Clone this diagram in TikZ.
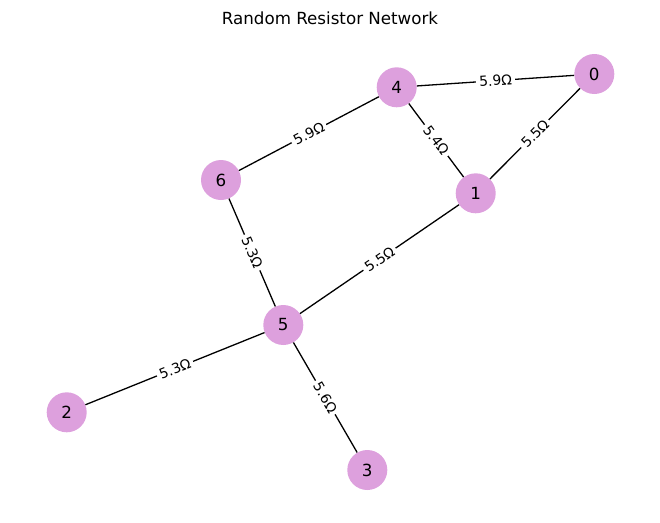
\documentclass[tikz,border=0pt]{standalone}
\usepackage{fontspec}
\setmainfont{DejaVu Sans}
\begin{document}
\begin{tikzpicture}[x=1pt,y=-1pt,
  vert/.style={circle,fill=plum,minimum size=40pt,inner sep=0pt,font=\fontsize{16.7}{18}\selectfont},
  edge/.style={draw=black,line width=1.3pt},
  elab/.style={midway,sloped,fill=white,inner xsep=3pt,inner ysep=1.5pt,rounded corners=2pt,font=\fontsize{13.9}{15}\selectfont}]
\definecolor{plum}{HTML}{DDA0DD}
\useasboundingbox (0,0) rectangle (660,522);
\node[font=\fontsize{16.7}{18}\selectfont] (title) at (330,18) {Random Resistor Network};
\node[vert] (n0) at (594.3,74) {0};
\node[vert] (n1) at (475.7,193.3) {1};
\node[vert] (n2) at (66.7,412.3) {2};
\node[vert] (n3) at (367.3,470) {3};
\node[vert] (n4) at (396.7,87.3) {4};
\node[vert] (n5) at (283.3,325) {5};
\node[vert] (n6) at (221,180) {6};
\draw[edge] (n4) -- node[elab] {5.9Ω} (n0);
\draw[edge] (n0) -- node[elab] {5.5Ω} (n1);
\draw[edge] (n4) -- node[elab] {5.4Ω} (n1);
\draw[edge] (n4) -- node[elab] {5.9Ω} (n6);
\draw[edge] (n6) -- node[elab] {5.3Ω} (n5);
\draw[edge] (n1) -- node[elab] {5.5Ω} (n5);
\draw[edge] (n5) -- node[elab] {5.3Ω} (n2);
\draw[edge] (n5) -- node[elab] {5.6Ω} (n3);
\end{tikzpicture}
\end{document}
